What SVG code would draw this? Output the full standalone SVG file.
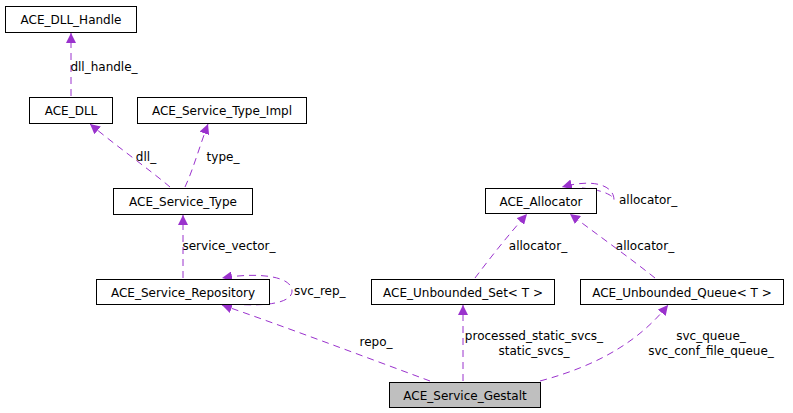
<svg xmlns="http://www.w3.org/2000/svg" width="793" height="413" viewBox="0 0 793 413">
<style>
.n rect{fill:#fff;stroke:#000;stroke-width:1}
text{font-family:"DejaVu Sans",sans-serif;font-size:12px;fill:#000}
.n text{text-anchor:middle}
.e path{fill:none;stroke:#9a32cd;stroke-width:1;stroke-dasharray:7,5}
.l{text-anchor:middle}
</style>
<defs><marker id="a" viewBox="0 0 10 10" refX="10" refY="5" markerWidth="10" markerHeight="10" markerUnits="userSpaceOnUse" orient="auto"><path d="M0,0L10,5L0,10z" fill="#9a32cd"/></marker></defs>
<rect width="793" height="413" fill="#fff"/>
<g class="e">
<path d="M71,96V33" marker-end="url(#a)"/>
<path d="M170,187C150,170 115,145 90,124" marker-end="url(#a)"/>
<path d="M185,187C193,170 200,145 208,124" marker-end="url(#a)"/>
<path d="M183,278V215" marker-end="url(#a)"/>
<path d="M232,304C270,307 292,302 292,291C292,276 258,272 222,278" marker-end="url(#a)"/>
<path d="M430,381C360,355 280,325 222,305" marker-end="url(#a)"/>
<path d="M463,381V305" marker-end="url(#a)"/>
<path d="M540,381C600,365 640,340 668,305" marker-end="url(#a)"/>
<path d="M475,278C490,258 510,233 527,214" marker-end="url(#a)"/>
<path d="M655,278C630,258 595,233 570,214" marker-end="url(#a)"/>
<path d="M582,188C604,190 614,196 614,200C614,186 595,178 562,187" marker-end="url(#a)"/>
</g>
<g class="e-labels">
<text x="104" y="71" class="l">dll_handle_</text>
<text x="146" y="161" class="l">dll_</text>
<text x="223" y="161" class="l">type_</text>
<text x="229" y="250" class="l">service_vector_</text>
<text x="294" y="295">svc_rep_</text>
<text x="376" y="346" class="l">repo_</text>
<text x="534" y="340" class="l">processed_static_svcs_</text>
<text x="534" y="355" class="l">static_svcs_</text>
<text x="711" y="340" class="l">svc_queue_</text>
<text x="711" y="355" class="l">svc_conf_file_queue_</text>
<text x="538" y="250" class="l">allocator_</text>
<text x="645" y="250" class="l">allocator_</text>
<text x="619" y="204">allocator_</text>
</g>
<g id="dllh" class="n"><rect x="5.5" y="6.5" width="131" height="26"/><text x="71" y="24">ACE_DLL_Handle</text></g>
<g id="dll" class="n"><rect x="29.5" y="97.5" width="83" height="26"/><text x="71" y="115">ACE_DLL</text></g>
<g id="sti" class="n"><rect x="137.5" y="97.5" width="169" height="26"/><text x="222" y="115">ACE_Service_Type_Impl</text></g>
<g id="st" class="n"><rect x="113.5" y="188.5" width="139" height="26"/><text x="183" y="206">ACE_Service_Type</text></g>
<g id="sr" class="n"><rect x="96.5" y="279.5" width="173" height="25"/><text x="183" y="297">ACE_Service_Repository</text></g>
<g id="al" class="n"><rect x="485.5" y="188.5" width="111" height="25"/><text x="541" y="206">ACE_Allocator</text></g>
<g id="us" class="n"><rect x="371.5" y="279.5" width="183" height="25"/><text x="463" y="297">ACE_Unbounded_Set&lt; T &gt;</text></g>
<g id="uq" class="n"><rect x="580.5" y="279.5" width="203" height="25"/><text x="682" y="297">ACE_Unbounded_Queue&lt; T &gt;</text></g>
<g id="sg" class="n"><rect x="389.5" y="382.5" width="151" height="25" style="fill:#bfbfbf"/><text x="465" y="400">ACE_Service_Gestalt</text></g>
</svg>
